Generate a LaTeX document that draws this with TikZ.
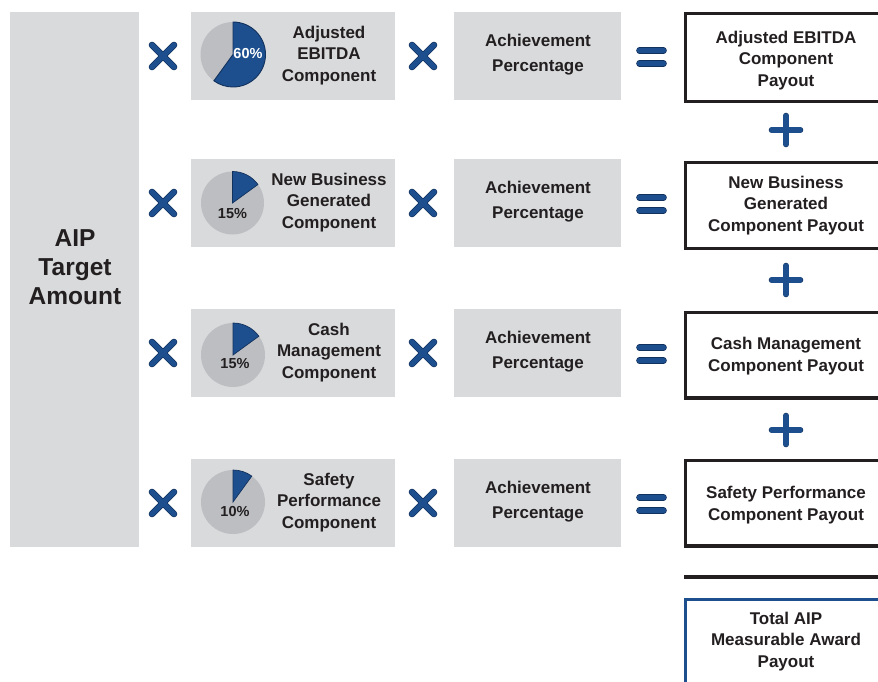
\documentclass[tikz,border=0pt]{standalone}
\usepackage{fontspec}
\setmainfont{Liberation Sans}
\definecolor{boxgray}{HTML}{D9DADC}
\definecolor{piegray}{HTML}{BDBEC1}
\definecolor{aipblue}{HTML}{1D4F8E}
\definecolor{aipdark}{HTML}{12325E}
\definecolor{txt}{HTML}{231F20}
\begin{document}
\begin{tikzpicture}[x=1pt,y=-1pt,
  graybox/.style={fill=boxgray, draw=none, inner sep=0pt},
  lbl/.style={font=\bfseries\fontsize{17}{21.5}\selectfont, text=txt, align=center, inner sep=0pt},
  achlbl/.style={font=\bfseries\fontsize{17}{25}\selectfont, text=txt, align=center, inner sep=0pt},
  pct/.style={font=\bfseries\fontsize{14.5}{16}\selectfont, inner sep=0pt},
  paybox/.style={draw=txt, line width=3.2pt, fill=white},
  opout/.style={line width=6.6pt, draw=aipdark, line cap=round},
  opin/.style={line width=5.2pt, draw=aipblue, line cap=round}]
\useasboundingbox (0,0) rectangle (878,682);
\clip (0,0) rectangle (878,682);

% big left box
\node[graybox, minimum width=129pt, minimum height=535pt] (aip) at (74.5,279.5) {};
\node[font=\bfseries\fontsize{24.5}{29}\selectfont, text=txt, align=center, inner sep=0pt] (aiptxt) at (75,267) {AIP\\Target\\Amount};

% payout boxes
\draw[paybox] (685.5,13.5) rectangle (900,101.5);
\draw[paybox] (685.5,162.5) rectangle (900,248.5);
\draw[paybox] (685.5,312.5) rectangle (900,398);
\draw[paybox] (685.5,460.5) rectangle (900,546);

% rows
\foreach \i/\y/\txt/\pay/\py in {%
  1/56/{Adjusted\\EBITDA\\Component}/{Adjusted EBITDA\\Component\\Payout}/60.5,
  2/203/{New Business\\Generated\\Component}/{New Business\\Generated\\Component Payout}/205.5,
  3/353/{Cash\\Management\\Component}/{Cash Management\\Component Payout}/356,
  4/503/{Safety\\Performance\\Component}/{Safety Performance\\Component Payout}/505}{
  \node[graybox, minimum width=204pt, minimum height=88pt] (comp\i) at (293,\y) {};
  \node[lbl] (comptxt\i) at (329,\y-0.5) {\txt};
  \node[graybox, minimum width=167pt, minimum height=88pt] (ach\i) at (537.5,\y) {};
  \node[achlbl] (achtxt\i) at (538,\y-1.5) {Achievement\\Percentage};
  % times 1
  \draw[opout] (152,\y-11) -- (174,\y+11) (152,\y+11) -- (174,\y-11);
  \draw[opin]  (152,\y-11) -- (174,\y+11) (152,\y+11) -- (174,\y-11);
  % times 2
  \draw[opout] (412,\y-11) -- (434,\y+11) (412,\y+11) -- (434,\y-11);
  \draw[opin]  (412,\y-11) -- (434,\y+11) (412,\y+11) -- (434,\y-11);
  % equals
  \draw[opout] (639.5,\y-5.5) -- (663.5,\y-5.5) (639.5,\y+7.5) -- (663.5,\y+7.5);
  \draw[opin]  (639.5,\y-5.5) -- (663.5,\y-5.5) (639.5,\y+7.5) -- (663.5,\y+7.5);
  % text of payout
  \node[lbl] (paytxt\i) at (786,\py) {\pay};
}

% plus signs
\foreach \y in {130,280,430}{
  \draw[opout] (772,\y) -- (800,\y) (786,\y-14) -- (786,\y+14);
  \draw[opin]  (772,\y) -- (800,\y) (786,\y-14) -- (786,\y+14);
}

% sum line and total
\draw[draw=txt, line width=3.2pt] (684,577) -- (878,577);
\draw[draw=aipblue, line width=3pt, fill=white] (685.5,599) rectangle (900,720);
\node[lbl] (total) at (786,641.5) {Total AIP\\Measurable Award\\Payout};

% pies
\fill[piegray] (233,54.5) circle (32.5);
\filldraw[fill=aipblue, draw=aipdark, line width=0.9pt] (233,54.5) -- ++(-90:32.5) arc[start angle=-90, end angle=126, radius=32.5] -- cycle;
\node[pct, text=white] (p1) at (248,54) {60\%};

\fill[piegray] (232.5,203) circle (31.5);
\filldraw[fill=aipblue, draw=aipdark, line width=0.7pt] (232.5,203) -- ++(-90:31.5) arc[start angle=-90, end angle=-36, radius=31.5] -- cycle;
\node[pct, text=txt] (p2) at (232.5,213.5) {15\%};

\fill[piegray] (233,355) circle (32);
\filldraw[fill=aipblue, draw=aipdark, line width=0.7pt] (233,355) -- ++(-90:32) arc[start angle=-90, end angle=-36, radius=32] -- cycle;
\node[pct, text=txt] (p3) at (235,364) {15\%};

\fill[piegray] (233,502) circle (32);
\filldraw[fill=aipblue, draw=aipdark, line width=0.7pt] (233,502) -- ++(-90:32) arc[start angle=-90, end angle=-54, radius=32] -- cycle;
\node[pct, text=txt] (p4) at (235,512) {10\%};
\end{tikzpicture}
\end{document}
